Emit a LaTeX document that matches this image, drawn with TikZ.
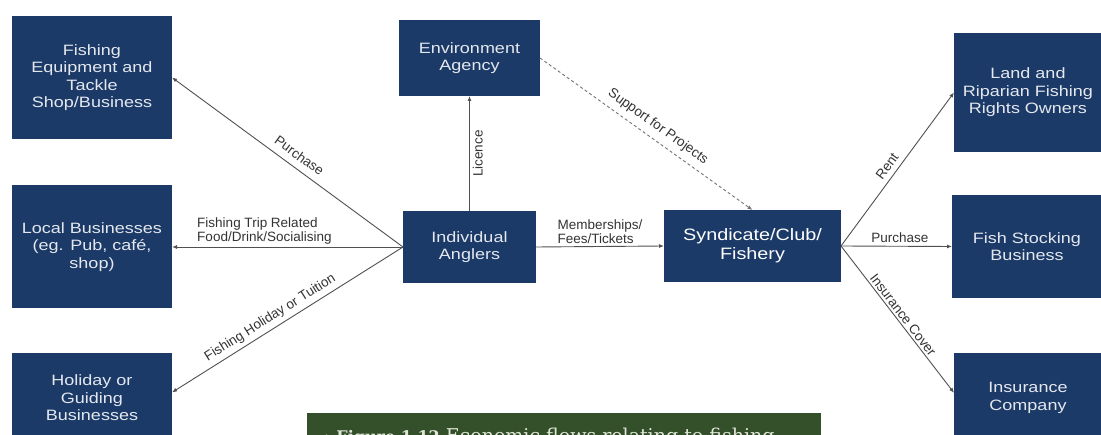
\documentclass[tikz,border=0pt]{standalone}
\usepackage{fontspec}
\setmainfont{Liberation Sans}
\newfontfamily\boxfont[FakeStretch=1.2]{Liberation Sans}
\newfontfamily\capfont{DejaVu Serif}
\newfontfamily\symfont{DejaVu Sans}
\usetikzlibrary{arrows.meta}
\definecolor{navy}{HTML}{1C3A68}
\definecolor{boxtext}{HTML}{E4E8EE}
\definecolor{flowgray}{HTML}{505050}
\definecolor{lblgray}{HTML}{333333}
\definecolor{capgreen}{HTML}{33502A}
\definecolor{captext}{HTML}{E2E6DA}
\begin{document}
\begin{tikzpicture}[x=1pt,y=-1pt,
  org/.style={rectangle, fill=navy, text=boxtext, align=center, inner sep=2pt, outer sep=0pt,
    font=\boxfont\fontsize{15}{17.5}\selectfont},
  flow/.style={draw=flowgray, line width=0.9pt, -{Latex[length=5pt,width=4pt]}},
  lab/.style={text=lblgray, inner sep=1pt, font=\fontsize{13.5}{14.3}\selectfont}]
\useasboundingbox (0,0) rectangle (1101,435);
\clip (0,0) rectangle (1101,435);
\node[org, minimum width=160, minimum height=123] (fet) at (92,77.5) {Fishing\\Equipment and\\Tackle\\Shop/Business};
\node[org, minimum width=160, minimum height=123] (loc) at (92,247) {Local Businesses\\(eg. Pub, café,\\shop)};
\node[org, minimum width=160, minimum height=90] (hol) at (92,398) {Holiday or\\Guiding\\Businesses};
\node[org, minimum width=141, minimum height=76] (env) at (469.5,58) {Environment\\Agency};
\node[org, minimum width=133, minimum height=72] (ang) at (469.5,247) {Individual\\Anglers};
\node[org, minimum width=177, minimum height=72, text=white, font=\boxfont\fontsize{16.5}{19}\selectfont] (syn) at (752.5,246) {Syndicate/Club/\\Fishery};
\node[org, minimum width=148, minimum height=119] (lnd) at (1028,92.5) {Land and\\Riparian Fishing\\Rights Owners};
\node[org, minimum width=150, minimum height=103] (fsb) at (1027,246.5) {Fish Stocking\\Business};
\node[org, minimum width=148, minimum height=90] (ins) at (1028,398) {Insurance\\Company};
\draw[flow] (ang.west) -- node[lab, sloped, above=6pt, pos=.48] (l0) {Purchase} (fet.east);
\draw[flow] (ang.west) -- node[lab, above=1pt, pos=.6, align=left] (l1) {Fishing Trip Related\\Food/Drink/Socialising} (loc.east);
\draw[flow] (ang.west) -- node[lab, sloped, above=3pt, pos=.55] (l2) {Fishing Holiday or Tuition} (hol.4);
\draw[flow] (ang.north) -- node[lab, sloped, below=2pt] (l3) {Licence} (env.south);
\draw[flow] (ang.east) -- node[lab, above=1pt, align=left] (l4) {Memberships/\\Fees/Tickets} (syn.west);
\draw[flow, draw=flowgray!80, dash pattern=on 3pt off 2.5pt] (env.east) -- node[lab, sloped, above=5pt, pos=.52] (l5) {Support for Projects} (syn.north);
\draw[flow] (syn.east) -- node[lab, sloped, above=4pt, pos=.48] (l6) {Rent} (lnd.west);
\draw[flow] (syn.east) -- node[lab, above=2pt, pos=.53] (l7) {Purchase} (fsb.west);
\draw[flow] (syn.east) -- node[lab, sloped, above=1pt, pos=.5] (l8) {Insurance Cover} (ins.176);
\node[fill=capgreen, minimum width=514, minimum height=40, anchor=north west, inner sep=0pt] (cap) at (307,413) {};
\node[anchor=base west, text=captext, inner sep=0pt, font=\capfont\fontsize{19}{21}\selectfont] (capt) at (322,443) {{\symfont\fontsize{12}{12}\selectfont ◆}\hspace{5pt}{\bfseries\fontsize{16}{18}\selectfont Figure 1.12}\hspace{6pt}Economic flows relating to fishing};
\end{tikzpicture}
\end{document}
